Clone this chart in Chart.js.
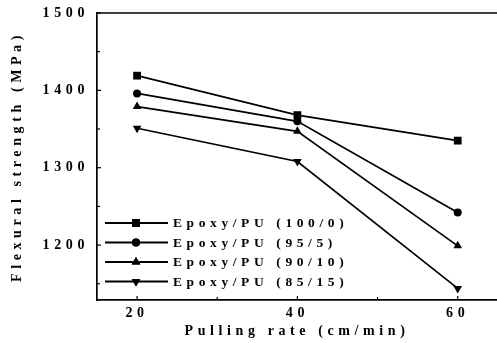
<!DOCTYPE html>
<html>
<head>
<meta charset="utf-8">
<script src="https://cdn.jsdelivr.net/npm/chart.js@4.4.1/dist/chart.umd.min.js"></script>
<style>
  html, body { margin: 0; padding: 0; background: #fff; }
  #wrap { width: 497px; height: 343px; }
</style>
</head>
<body>
<div id="wrap"><canvas id="myChart" width="497" height="343"></canvas></div>
<script>
// data
const pullingRates = [20, 40, 60];
const seriesNames = ['Epoxy/PU (100/0)', 'Epoxy/PU (95/5)', 'Epoxy/PU (90/10)', 'Epoxy/PU (85/15)'];
const epoxy100 = [1419, 1368, 1335];
const epoxy95 = [1396, 1360, 1242];
const epoxy90 = [1379, 1347, 1199];
const epoxy85 = [1351, 1308, 1144];
const yTickValues = [1200, 1300, 1400, 1500];
const yMinorTicks = [1150, 1250, 1350, 1450];
const xTickValues = [20, 40, 60];
const xMinorTicks = [30, 50];

const FONT = "'Liberation Serif', 'Times New Roman', serif";
const markerStyles = [
  { pointStyle: 'rect', radius: 5.5, rotation: 0 },
  { pointStyle: 'circle', radius: 4, rotation: 0 },
  { pointStyle: 'triangle', radius: 5, rotation: 0 },
  { pointStyle: 'triangle', radius: 5, rotation: 180 }
];
const allSeries = [epoxy100, epoxy95, epoxy90, epoxy85];

const datasets = allSeries.map(function (vals, i) {
  return {
    label: seriesNames[i],
    data: vals.map(function (v, j) { return { x: pullingRates[j], y: v }; }),
    borderColor: '#000',
    backgroundColor: '#000',
    borderWidth: 1.7,
    tension: 0,
    pointStyle: markerStyles[i].pointStyle,
    pointRadius: markerStyles[i].radius,
    pointRotation: markerStyles[i].rotation,
    pointBackgroundColor: '#000',
    pointBorderWidth: 0,
    clip: false
  };
});

// letter spaced text like the scanned figure
const SPACING = '4.6px';
const spacingPlugin = {
  id: 'spacing',
  beforeLayout(chart) { chart.ctx.letterSpacing = SPACING; },
  beforeDraw(chart) { chart.ctx.letterSpacing = SPACING; }
};

// top frame line, inward ticks, legend inside the plot
const extrasPlugin = {
  id: 'extras',
  afterDatasetsDraw(chart) {
    const ctx = chart.ctx;
    const a = chart.chartArea;
    const xs = chart.scales.x, ys = chart.scales.y;
    ctx.save();
    ctx.strokeStyle = '#000';
    ctx.lineWidth = 1.5;
    ctx.beginPath();
    ctx.moveTo(a.left, a.top);
    ctx.lineTo(a.right, a.top);
    ctx.stroke();

    ctx.lineWidth = 1.2;
    yTickValues.concat(yMinorTicks).forEach(function (v) {
      const y = ys.getPixelForValue(v);
      const len = yTickValues.includes(v) ? 4 : 3;
      ctx.beginPath();
      ctx.moveTo(a.left, y);
      ctx.lineTo(a.left + len, y);
      ctx.stroke();
    });
    xTickValues.concat(xMinorTicks).forEach(function (v) {
      const x = xs.getPixelForValue(v);
      const len = xTickValues.includes(v) ? 4 : 3;
      ctx.beginPath();
      ctx.moveTo(x, a.bottom);
      ctx.lineTo(x, a.bottom - len);
      ctx.stroke();
    });

    // legend
    const rowY = [223, 242.5, 262, 281.5];
    ctx.letterSpacing = '4.6px';
    ctx.font = 'bold 13.5px ' + FONT;
    ctx.textBaseline = 'middle';
    ctx.textAlign = 'left';
    ctx.fillStyle = '#000';
    seriesNames.forEach(function (name, i) {
      const y = rowY[i];
      ctx.lineWidth = 1.8;
      ctx.beginPath();
      ctx.moveTo(105, y);
      ctx.lineTo(168, y);
      ctx.stroke();
      Chart.helpers.drawPoint(ctx, markerStyles[i], 136, y);
      ctx.fill();
      ctx.fillText(name, 173, y + 1);
    });
    ctx.restore();
  }
};

const ctx = document.getElementById('myChart').getContext('2d');
const myChart = new Chart(ctx, {
  type: 'line',
  data: { datasets: datasets },
  options: {
    responsive: false,
    animation: false,
    devicePixelRatio: 1,
    layout: { autoPadding: false, padding: { left: 0, right: 0, top: 13, bottom: 0 } },
    plugins: {
      legend: { display: false },
      tooltip: { enabled: false }
    },
    scales: {
      x: {
        type: 'linear',
        min: 15,
        max: 64.9,
        afterBuildTicks: function (scale) {
          scale.ticks = xTickValues.map(function (v) { return { value: v }; });
        },
        afterFit: function (scale) {
          scale.height = 43;
          scale.paddingLeft = 0;
          scale.paddingRight = 0;
        },
        grid: { display: false, drawTicks: false },
        border: { display: true, color: '#000', width: 1.7 },
        ticks: {
          color: '#000',
          padding: 5,
          maxRotation: 0,
          callback: function (v) { return String(v); },
          font: { family: FONT, size: 14, weight: 'bold' }
        },
        title: {
          display: true,
          text: 'Pulling rate (cm/min)',
          color: '#000',
          padding: { top: 0, bottom: 3 },
          font: { family: FONT, size: 14, weight: 'bold' }
        }
      },
      y: {
        min: 1129,
        max: 1500,
        afterBuildTicks: function (scale) {
          scale.ticks = yTickValues.map(function (v) { return { value: v }; });
        },
        afterFit: function (scale) {
          scale.width = 97;
          scale.paddingTop = 0;
          scale.paddingBottom = 0;
        },
        grid: { display: false, drawTicks: false },
        border: { display: true, color: '#000', width: 1.7 },
        ticks: {
          color: '#000',
          padding: 8,
          callback: function (v) { return String(v); },
          font: { family: FONT, size: 14, weight: 'bold' }
        },
        title: {
          display: true,
          text: 'Flexural strength (MPa)',
          color: '#000',
          padding: { top: 9, bottom: 0 },
          font: { family: FONT, size: 14, weight: 'bold' }
        }
      }
    }
  },
  plugins: [spacingPlugin, extrasPlugin]
});
</script>
</body>
</html>
